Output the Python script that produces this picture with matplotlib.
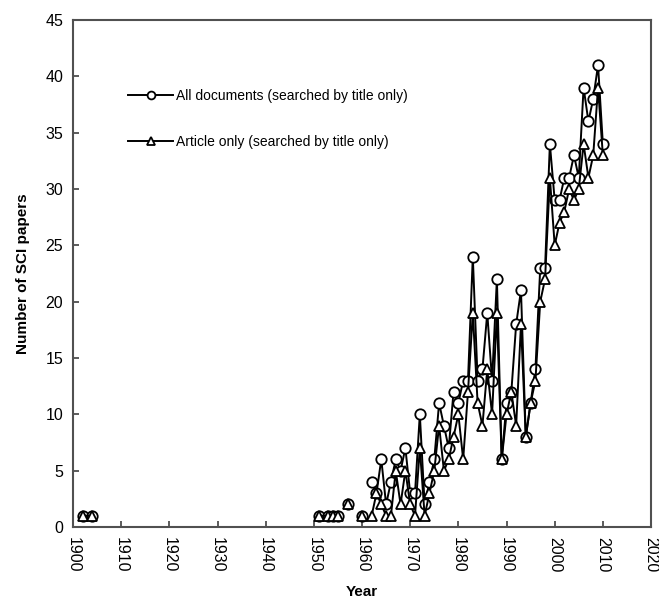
import numpy as np
import matplotlib
matplotlib.use("Agg")
import matplotlib.pyplot as plt

plt.rcParams["font.family"] = ["Liberation Sans", "DejaVu Sans"]

# Jahre mit Daten (None = Lücke, keine Linie)
years = [1902, 1904, None, 1951, 1953, 1954, 1955, None, 1957, None, 1960, None,
         1962, 1963, 1964, 1965, 1966, 1967, 1968, 1969, 1970, 1971,
         1972, 1973, 1974, 1975, 1976, 1977, 1978, 1979, 1980, 1981,
         1982, 1983, 1984, 1985, 1986, 1987, 1988, 1989, 1990, 1991,
         1992, 1993, 1994, 1995, 1996, 1997, 1998, 1999, 2000, 2001,
         2002, 2003, 2004, 2005, 2006, 2007, 2008, 2009, 2010]

all_docs = [1, 1, None, 1, 1, 1, 1, None, 2, None, 1, None,
            4, 3, 6, 2, 4, 6, 5, 7, 3, 3,
            10, 2, 4, 6, 11, 9, 7, 12, 11, 13,
            13, 24, 13, 14, 19, 13, 22, 6, 11, 12,
            18, 21, 8, 11, 14, 23, 23, 34, 29, 29,
            31, 31, 33, 31, 39, 36, 38, 41, 34]

articles = [1, 1, None, 1, 1, 1, 1, None, 2, None, 1, None,
            1, 3, 2, 1, 1, 5, 2, 5, 2, 1,
            7, 1, 3, 5, 9, 5, 6, 8, 10, 6,
            12, 19, 11, 9, 14, 10, 19, 6, 10, 12,
            9, 18, 8, 11, 13, 20, 22, 31, 25, 27,
            28, 30, 29, 30, 34, 31, 33, 39, 33]

label_all = "All documents (searched by title only)"
label_art = "Article only (searched by title only)"


def to_arr(vals):
    return np.array([np.nan if v is None else v for v in vals], dtype=float)


x = to_arr(years)
y1 = to_arr(all_docs)
y2 = to_arr(articles)

fig = plt.figure(figsize=(6.59, 5.98), dpi=100)
ax = fig.add_axes([0.1108, 0.1187, 0.8771, 0.8479])

ax.plot(x, y1, color="black", lw=1.4, marker="o", ms=7.5, mfc="white",
        mec="black", mew=1.3, label=label_all)
ax.plot(x, y2, color="black", lw=1.4, marker="^", ms=7, mfc="white",
        mec="black", mew=1.3, label=label_art)

ax.set_xlim(1900, 2020)
ax.set_ylim(0, 45)
ax.set_xticks(range(1900, 2021, 10))
ax.set_yticks(range(0, 46, 5))
ax.tick_params(direction="in", length=4, width=1.2, color="#404040",
               labelsize=11.5, pad=7)
for lab in ax.get_xticklabels():
    lab.set_rotation(-90)

for sp in ax.spines.values():
    sp.set_color("#505050")
    sp.set_linewidth(1.5)

ax.set_xlabel("Year", fontsize=11, fontweight="bold", labelpad=9)
ax.set_ylabel("Number of SCI papers", fontsize=11, fontweight="bold", labelpad=11)

leg = ax.legend(loc="upper left", bbox_to_anchor=(0.074, 0.889), frameon=False,
                fontsize=10, handlelength=3.2, handletextpad=0.2,
                labelspacing=2.3, markerscale=0.75)

fig.savefig("out.png", dpi=100)
